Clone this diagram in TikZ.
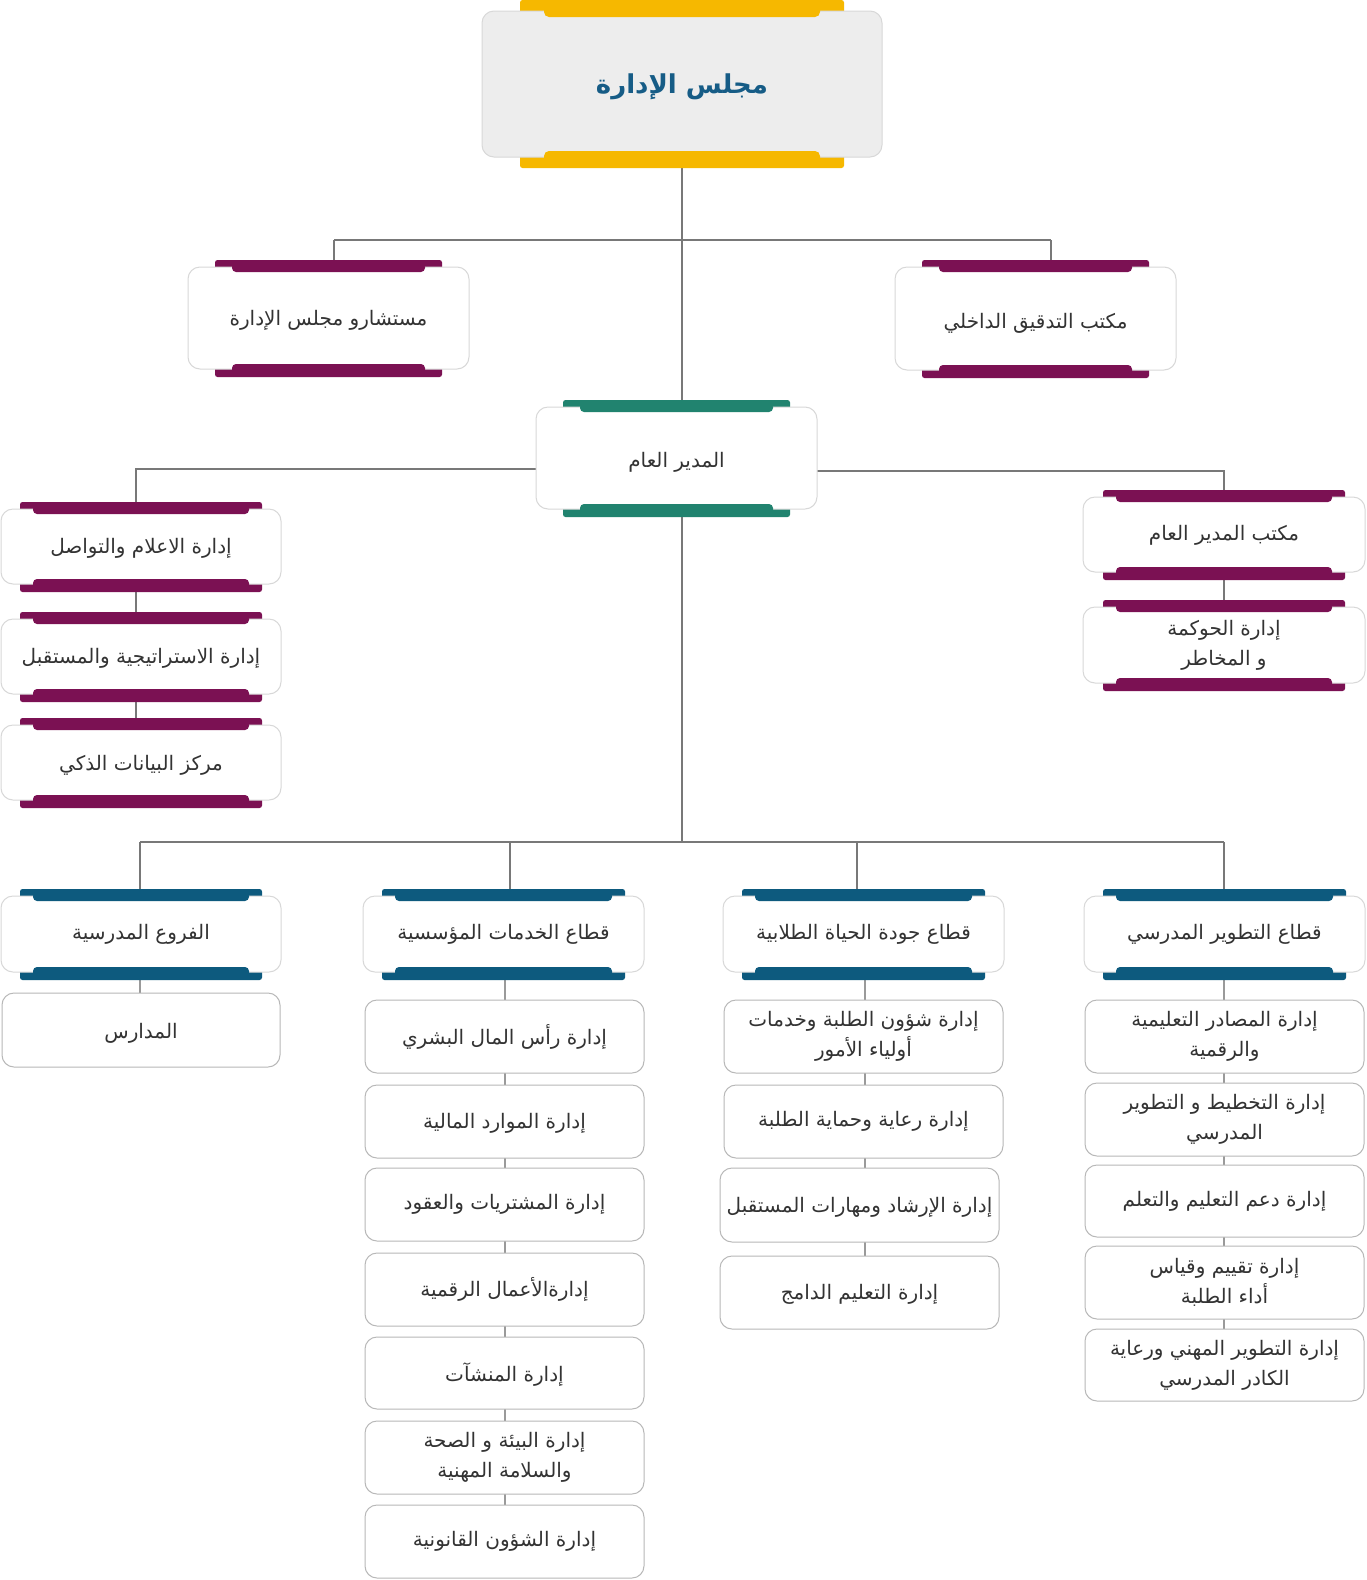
\documentclass[tikz,border=0pt]{standalone}
\usepackage{fontspec}
\newfontfamily\arabicfont[Script=Arabic]{DejaVu Sans}
\TeXXeTstate=1
\pgfdeclarelayer{bg}
\pgfsetlayers{bg,main}
\definecolor{cyel}{HTML}{F6B800}
\definecolor{cpur}{HTML}{7B1153}
\definecolor{cteal}{HTML}{21836F}
\definecolor{cblue}{HTML}{0D5A7E}
\definecolor{ctxt}{HTML}{333333}
\definecolor{ctitle}{HTML}{165C86}
\definecolor{cline}{HTML}{787878}
\definecolor{cthin}{HTML}{9A9A9A}
\definecolor{cbord}{HTML}{D8D8D8}
\definecolor{csub}{HTML}{B8B8B8}
\definecolor{ctop}{HTML}{EDEDED}
\newcommand\RL[1]{\beginR #1\endR}
\newcommand\dn[2]{\raisebox{-#1pt}[\height][\depth]{#2}}
\tikzset{
  bx/.style={draw=cbord, fill=white, rounded corners=12pt, line width=1pt, inner sep=0pt, outer sep=0pt,
    font=\arabicfont\fontsize{20}{30}\selectfont, text=ctxt, align=center},
  sb/.style={bx, draw=csub},
  conn/.style={draw=cline, line width=1.8pt},
  thinconn/.style={draw=cthin, line width=1.1pt}
}
% name, x1, y1, x2, y2, outer inset, inner inset, colour, text
\newcommand\barbox[9]{%
  \pgfmathsetmacro\bw{#4-#2}\pgfmathsetmacro\bh{#5-#3}%
  \pgfmathsetmacro\bcx{(#2+#4)/2}\pgfmathsetmacro\bcy{(#3+#5)/2}%
  \fill[#8,rounded corners=2.5pt] (#2+#6,#3-7) rectangle (#4-#6,#3+3);
  \fill[#8,rounded corners=2.5pt] (#2+#6,#5-3) rectangle (#4-#6,#5+8);
  \node[bx,minimum width=\bw pt,minimum height=\bh pt] (#1) at (\bcx,\bcy) {#9};
  \fill[#8,rounded corners=4pt] (#2+#7,#3-4) rectangle (#4-#7,#3+5);
  \fill[#8,rounded corners=4pt] (#2+#7,#5-5) rectangle (#4-#7,#5+5);
}
% name, x1, y1, x2, y2, text
\newcommand\subbox[6]{%
  \pgfmathsetmacro\bw{#4-#2}\pgfmathsetmacro\bh{#5-#3}%
  \pgfmathsetmacro\bcx{(#2+#4)/2}\pgfmathsetmacro\bcy{(#3+#5)/2}%
  \node[sb,minimum width=\bw pt,minimum height=\bh pt] (#1) at (\bcx,\bcy) {#6};
}
\begin{document}
\begin{tikzpicture}[x=1pt,y=-1pt]
\useasboundingbox (0,0) rectangle (1366,1580);
\begin{pgfonlayer}{bg}
\fill[white] (0,0) rectangle (1366,1580);
\end{pgfonlayer}

% top box
\fill[cyel,rounded corners=2.5pt] (520,0) rectangle (844,16);
\fill[cyel,rounded corners=2.5pt] (520,152) rectangle (844,168);
\node[bx,fill=ctop,minimum width=400pt,minimum height=146pt,
  font=\arabicfont\bfseries\fontsize{26}{30}\selectfont,text=ctitle] (top) at (682,84) {\dn{3}{\RL{مجلس الإدارة}}};
\fill[cyel,rounded corners=5pt] (544,5) rectangle (820,17);
\fill[cyel,rounded corners=5pt] (544,151) rectangle (820,163);

% level 2
\barbox{adv}{188}{267}{469}{369}{27}{44}{cpur}{\dn{2}{\RL{مستشارو مجلس الإدارة}}}
\barbox{aud}{895}{267}{1176}{370}{27}{44}{cpur}{\dn{5}{\RL{مكتب التدقيق الداخلي}}}
\barbox{gm}{536}{407}{817}{509}{27}{44}{cteal}{\dn{4}{\RL{المدير العام}}}

% left stack
\barbox{L1}{1}{509}{281}{584}{19}{32}{cpur}{\dn{2}{\RL{إدارة الاعلام والتواصل}}}
\barbox{L2}{1}{619}{281}{694}{19}{32}{cpur}{\dn{2}{\RL{إدارة الاستراتيجية والمستقبل}}}
\barbox{L3}{1}{725}{281}{800}{19}{32}{cpur}{\dn{3}{\RL{مركز البيانات الذكي}}}

% right stack
\barbox{R1}{1083}{497}{1365}{572}{20}{33}{cpur}{\dn{1}{\RL{مكتب المدير العام}}}
\barbox{R2}{1083}{607}{1365}{683}{20}{33}{cpur}{\RL{إدارة الحوكمة}\\\RL{و المخاطر}}

% sector headers
\barbox{H1}{1}{896}{281}{972}{19}{32}{cblue}{\RL{الفروع المدرسية}}
\barbox{H2}{363}{896}{644}{972}{19}{32}{cblue}{\RL{قطاع الخدمات المؤسسية}}
\barbox{H3}{723}{896}{1004}{972}{19}{32}{cblue}{\RL{قطاع جودة الحياة الطلابية}}
\barbox{H4}{1084}{896}{1365}{972}{19}{32}{cblue}{\RL{قطاع التطوير المدرسي}}

% column 1
\subbox{S11}{2}{993}{280}{1067}{\dn{3}{\RL{المدارس}}}

% column 2
\subbox{S21}{365}{1000}{644}{1073}{\RL{إدارة رأس المال البشري}}
\subbox{S22}{365}{1085}{644}{1158}{\dn{2}{\RL{إدارة الموارد المالية}}}
\subbox{S23}{365}{1168}{644}{1241}{\RL{إدارة المشتريات والعقود}}
\subbox{S24}{365}{1253}{644}{1326}{\RL{إدارةالأعمال الرقمية}}
\subbox{S25}{365}{1337}{644}{1409}{\dn{2}{\RL{إدارة المنشآت}}}
\subbox{S26}{365}{1421}{644}{1494}{\RL{إدارة البيئة و الصحة}\\\RL{والسلامة المهنية}}
\subbox{S27}{365}{1505}{644}{1578}{\RL{إدارة  الشؤون القانونية}}

% column 3
\subbox{S31}{724}{1000}{1003}{1073}{\RL{إدارة شؤون الطلبة وخدمات}\\\RL{أولياء الأمور}}
\subbox{S32}{724}{1085}{1003}{1158}{\RL{إدارة رعاية وحماية الطلبة}}
\subbox{S33}{720}{1168}{999}{1242}{\dn{2}{\RL{إدارة الإرشاد ومهارات المستقبل}}}
\subbox{S34}{720}{1256}{999}{1329}{\dn{2}{\RL{إدارة التعليم الدامج}}}

% column 4
\subbox{S41}{1085}{1000}{1364}{1073}{\RL{إدارة المصادر  التعليمية}\\\RL{والرقمية}}
\subbox{S42}{1085}{1083}{1364}{1156}{\RL{إدارة التخطيط و التطوير}\\\RL{المدرسي}}
\subbox{S43}{1085}{1165}{1364}{1237}{\RL{إدارة دعم التعليم والتعلم}}
\subbox{S44}{1085}{1246}{1364}{1319}{\RL{إدارة تقييم وقياس}\\\RL{أداء الطلبة}}
\subbox{S45}{1085}{1329}{1364}{1401}{\RL{إدارة التطوير المهني ورعاية}\\\RL{الكادر المدرسي}}

% connectors
\coordinate (b1l) at (334,240);
\coordinate (b1r) at (1051,240);
\coordinate (gml) at (136,469);
\coordinate (gmr) at (1224,471);
\coordinate (b2) at (682,842);
\coordinate (b2a) at (140,842);
\coordinate (b2b) at (510,842);
\coordinate (b2c) at (857,842);
\coordinate (b2d) at (1224,842);
\coordinate (c2) at (505,934);
\coordinate (c3) at (865,934);
\begin{pgfonlayer}{bg}
\draw[conn] (top) -- (b2);
\draw[conn] (b1l) -- (b1r);
\draw[conn] (b1l) -- (b1l |- adv.north);
\draw[conn] (b1r) -- (b1r |- aud.north);
\draw[conn] (gm.center |- gml) -- (gml) -- (gml |- L3);
\draw[conn] (gm.center |- gmr) -- (gmr) -- (gmr |- R2);
\draw[conn] (b2a) -- (b2d);
\draw[conn] (b2a) -- (b2a |- H1);
\draw[conn] (b2b) -- (b2b |- H2);
\draw[conn] (b2c) -- (b2c |- H3);
\draw[conn] (b2d) -- (b2d |- H4);
\draw[thinconn] (H1.center -| b2a) -- (b2a |- S11);
\draw[thinconn] (c2) -- (c2 |- S27);
\draw[thinconn] (c3) -- (c3 |- S34);
\draw[thinconn] (b2d |- H4) -- (b2d |- S45);
\end{pgfonlayer}
\end{tikzpicture}
\end{document}
